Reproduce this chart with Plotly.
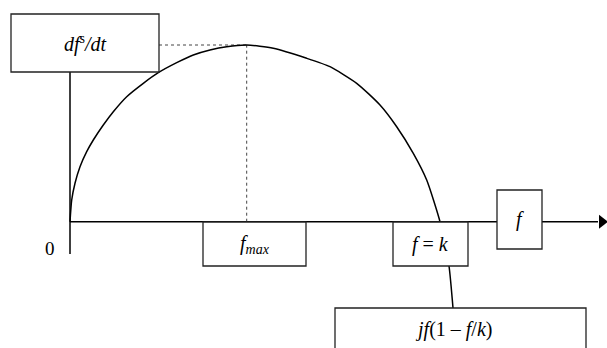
import plotly.graph_objects as go

# curve: growth rate against stock f (origin of the diagram at 0, 0)
curve_f = [0, 1.7, 5, 10, 16.7, 23.3, 33.3, 43.3, 56.7, 73.3, 88.3, 106.7, 123.3, 140,
           156.7, 176.7, 203.3, 236.7, 260, 286.7, 310, 326.7, 343.3, 356.7, 370,
           374, 379, 383]
curve_rate = [0, 21.7, 38.4, 55, 70, 81.7, 96.7, 110, 125, 138.4, 149, 159, 166.7, 171.7,
              175, 176.7, 173.4, 163.4, 155, 138.4, 116.7, 95, 68.4, 41.7, 0,
              -20, -44.3, -86.3]

f_max = 176.7
rate_max = 176.7
axis_end = 528

labels = ["<i>df</i><sup>s</sup><i>/dt</i>", "<i>f</i><sub><i>max</i></sub>",
          "<i>f</i> = <i>k</i>", "<i>f</i>", "<i>jf</i>(1 – <i>f</i>/<i>k</i>)"]
# boxes: x0, x1, y0, y1 in diagram units
boxes = [(-59, 89, 149.7, 207.7), (133, 236, -44.3, -0.3), (323, 398, -44.3, -0.3),
         (427, 472, -27.3, 31.7), (265, 516, -140, -86.3)]
label_pos = [(15, 178.7), (184.5, -22.5), (360.5, -22.5), (449.5, 2.7), (383, -108)]

SERIF = "Liberation Serif"
EDGE = "#222222"

fig = go.Figure()

fig.add_trace(go.Scatter(x=curve_f, y=curve_rate, mode="lines",
                         line=dict(color="black", width=1.5, shape="spline", smoothing=0.6),
                         hoverinfo="skip"))

# arrow head on the f axis
fig.add_trace(go.Scatter(x=[axis_end + 4], y=[0], mode="markers",
                         marker=dict(symbol="triangle-right", size=12, color="black"),
                         hoverinfo="skip"))

# axes
fig.add_shape(type="line", x0=0, x1=axis_end, y0=0, y1=0,
              line=dict(color="black", width=1.5), layer="below")
fig.add_shape(type="line", x0=0, x1=0, y0=-32.3, y1=149.7,
              line=dict(color="black", width=1.5), layer="below")

# dotted guides to the peak
fig.add_shape(type="line", x0=89, x1=f_max, y0=rate_max, y1=rate_max,
              line=dict(color="#444444", width=1, dash="dot"), layer="below")
fig.add_shape(type="line", x0=f_max, x1=f_max, y0=0, y1=rate_max,
              line=dict(color="#444444", width=1, dash="dot"), layer="below")

for x0, x1, y0, y1 in boxes:
    fig.add_shape(type="rect", x0=x0, x1=x1, y0=y0, y1=y1,
                  line=dict(color=EDGE, width=1.3), fillcolor="white", layer="above")

for text, (x, y) in zip(labels, label_pos):
    fig.add_annotation(x=x, y=y, text=text, showarrow=False,
                       font=dict(family=SERIF, size=20, color="black"))

fig.add_annotation(x=-20, y=-27, text="0", showarrow=False,
                   font=dict(family=SERIF, size=19, color="black"))

fig.update_xaxes(range=[-70, 537], visible=False, fixedrange=True)
fig.update_yaxes(range=[-126.3, 221.7], visible=False, fixedrange=True)
fig.update_layout(
    width=607,
    height=348,
    margin=dict(l=0, r=0, t=0, b=0),
    showlegend=False,
    plot_bgcolor="white",
    paper_bgcolor="white",
)

fig.write_html(
    "out.html",
    config={"displayModeBar": False},
    post_script="document.body.style.margin = '0';",
)
